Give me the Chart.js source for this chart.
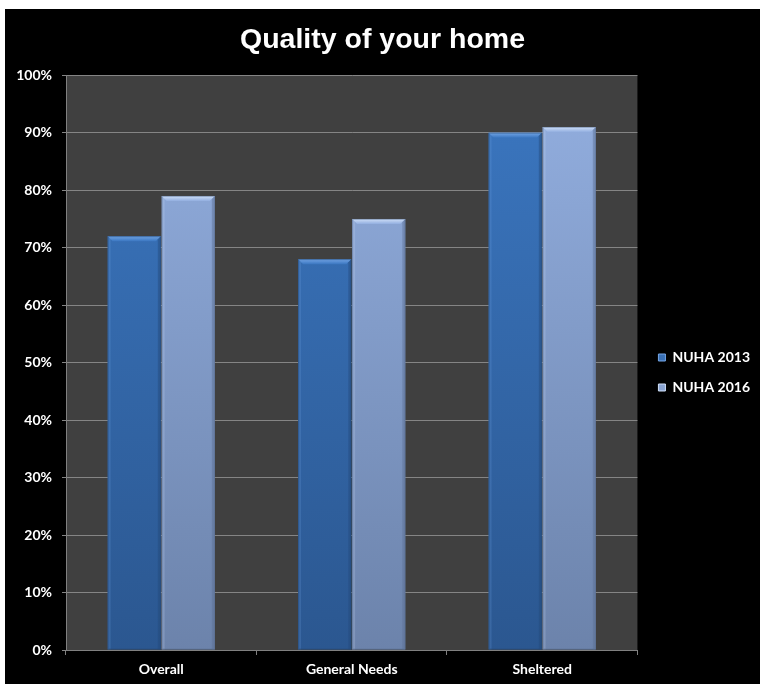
<!DOCTYPE html>
<html>
<head>
<meta charset="utf-8">
<title>Quality of your home</title>
<script src="https://cdn.jsdelivr.net/npm/chart.js@4.4.0/dist/chart.umd.min.js"></script>
<style>
  html, body { margin: 0; padding: 0; background: #fff; }
  #wrap { position: absolute; left: 5px; top: 9px; width: 755px; height: 675px; background: #000; }
</style>
</head>
<body>
<div id="wrap"><canvas id="myChart" width="755" height="675"></canvas></div>
<script>
// survey results, % satisfied
const categories = ['Overall', 'General Needs', 'Sheltered'];
const nuha2013 = [72, 68, 90];
const nuha2016 = [79, 75, 91];
const seriesNames = ['NUHA 2013', 'NUHA 2016'];

// top / bottom of the shading for each series
const shades = [
  { top: '#3b77c1', bottom: '#2b5790', light: '#74a6e6', dark: '#24497a', key: '#3a70b4' },
  { top: '#93afe0', bottom: '#6c83ab', light: '#d0e0f8', dark: '#5a6f93', key: '#8aa4d2' }
];

function barFill(i) {
  return function (ctx) {
    const area = ctx.chart.chartArea;
    if (!area) return shades[i].top;
    const g = ctx.chart.ctx.createLinearGradient(0, area.top, 0, area.bottom);
    g.addColorStop(0, shades[i].top);
    g.addColorStop(1, shades[i].bottom);
    return g;
  };
}

// dark plot background
const plotBg = {
  id: 'plotBg',
  beforeDraw(chart) {
    const { ctx, chartArea: a } = chart;
    ctx.save();
    ctx.fillStyle = '#404040';
    ctx.fillRect(a.left, a.top, a.right - a.left, a.bottom - a.top);
    ctx.restore();
  }
};

// bevelled edges on top of each bar
const bevel = {
  id: 'bevel',
  afterDatasetsDraw(chart) {
    const ctx = chart.ctx;
    chart.data.datasets.forEach((ds, i) => {
      const s = shades[i];
      chart.getDatasetMeta(i).data.forEach(bar => {
        const l = bar.x - bar.width / 2, r = bar.x + bar.width / 2;
        const t = bar.y, b = bar.base, d = 5;
        ctx.save();
        // top face
        const g = ctx.createLinearGradient(0, t, 0, t + d);
        g.addColorStop(0, s.light);
        g.addColorStop(1, s.top);
        ctx.fillStyle = g;
        ctx.beginPath();
        ctx.moveTo(l, t); ctx.lineTo(r, t); ctx.lineTo(r - d, t + d); ctx.lineTo(l + d, t + d);
        ctx.closePath(); ctx.fill();
        // right side shadow
        ctx.globalAlpha = 0.45;
        ctx.fillStyle = s.dark;
        ctx.beginPath();
        ctx.moveTo(r, t); ctx.lineTo(r, b); ctx.lineTo(r - 3, b); ctx.lineTo(r - 3, t + 3);
        ctx.closePath(); ctx.fill();
        // left side highlight
        ctx.globalAlpha = 0.2;
        ctx.fillStyle = s.light;
        ctx.beginPath();
        ctx.moveTo(l, t); ctx.lineTo(l + 3, t + 3); ctx.lineTo(l + 3, b); ctx.lineTo(l, b);
        ctx.closePath(); ctx.fill();
        // thin outline
        ctx.globalAlpha = 0.5;
        ctx.strokeStyle = s.dark;
        ctx.lineWidth = 1;
        ctx.strokeRect(l + 0.5, t + 0.5, r - l - 1, b - t - 1);
        ctx.restore();
      });
    });
  }
};

const labelFont = { family: 'Lato, "Open Sans", sans-serif', size: 14, weight: 'bold' };

const config = {
  type: 'bar',
  data: {
    labels: categories,
    datasets: [
      { label: seriesNames[0], data: nuha2013, backgroundColor: barFill(0),
        categoryPercentage: 0.567, barPercentage: 0.985 },
      { label: seriesNames[1], data: nuha2016, backgroundColor: barFill(1),
        categoryPercentage: 0.567, barPercentage: 0.985 }
    ]
  },
  options: {
    responsive: false,
    animation: false,
    layout: { padding: { right: 0 } },
    plugins: {
      tooltip: { enabled: false },
      title: {
        display: true,
        text: 'Quality of your home',
        color: '#fff',
        font: { family: '"Liberation Sans", Arial, sans-serif', size: 28.5, weight: 'bold' },
        padding: { top: 14, bottom: 18 }
      },
      legend: {
        position: 'right',
        // empty heading pushes the entries down to sit beside the middle of the plot
        title: { display: true, text: ' ', font: { size: 10 }, padding: { top: 40, bottom: 0 } },
        labels: {
          color: '#fff',
          font: labelFont,
          boxWidth: 7,
          boxHeight: 7,
          padding: 16,
          generateLabels(chart) {
            return chart.data.datasets.map((ds, i) => ({
              text: ds.label,
              fillStyle: shades[i].key,
              strokeStyle: shades[i].light,
              lineWidth: 1,
              fontColor: '#fff',
              datasetIndex: i
            }));
          }
        }
      }
    },
    scales: {
      x: {
        offset: true,
        grid: { offset: true, drawOnChartArea: false, drawTicks: true, tickLength: 5, color: '#808080' },
        border: { color: '#808080' },
        ticks: { color: '#fff', font: labelFont, padding: 6 },
        afterFit(s) { s.height = 34; }
      },
      y: {
        min: 0,
        max: 100,
        ticks: { stepSize: 10, color: '#fff', font: labelFont, padding: 10,
          callback: v => v + '%' },
        grid: { color: '#858585', tickLength: 4 },
        border: { color: '#808080' },
        afterFit(s) { s.width = 61; }
      },
      gap: {
        position: 'right',
        display: true,
        grid: { display: false },
        border: { display: false },
        ticks: { display: false },
        afterFit(s) { s.width = 5; }
      }
    }
  },
  plugins: [plotBg, bevel]
};

const myChart = new Chart(document.getElementById('myChart'), config);
</script>
</body>
</html>
